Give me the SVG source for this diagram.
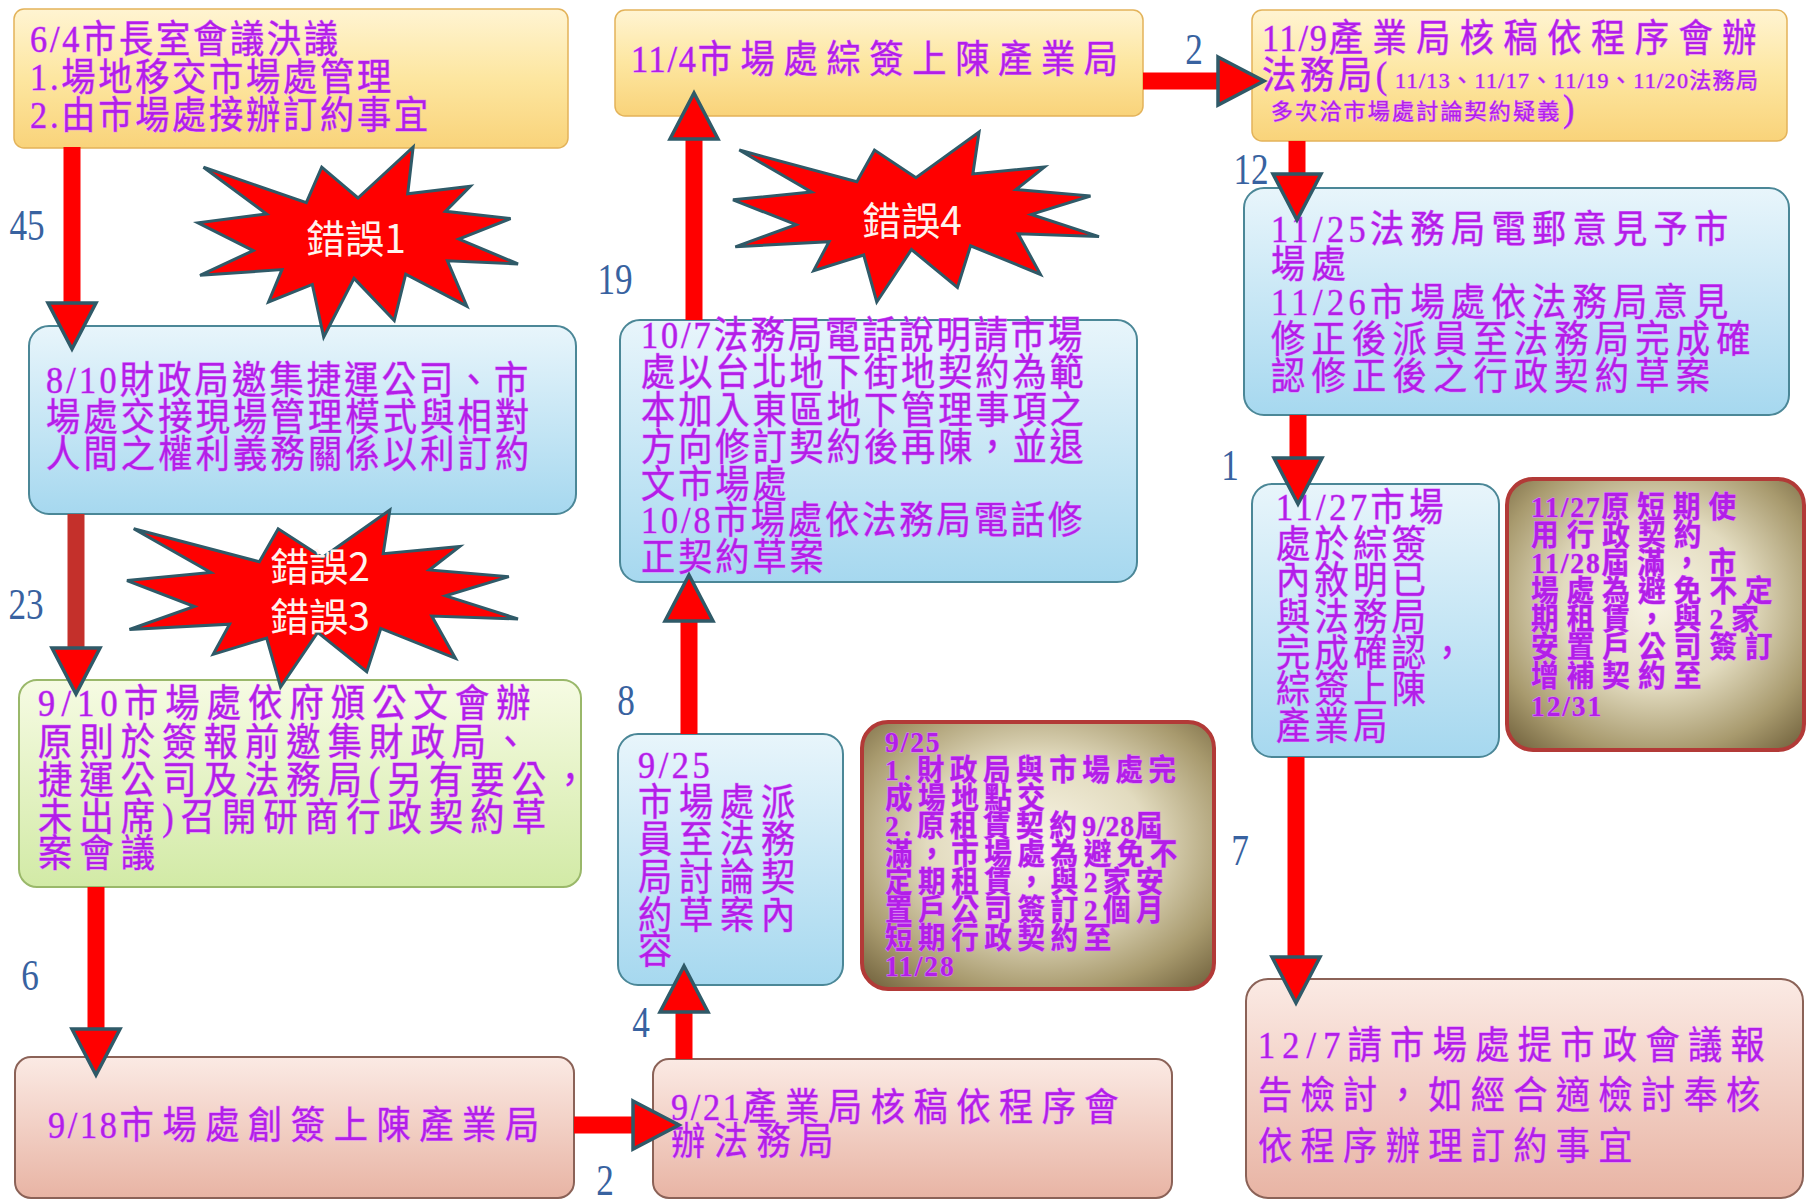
<svg xmlns="http://www.w3.org/2000/svg" xmlns:xlink="http://www.w3.org/1999/xlink" width="1806" height="1203" viewBox="0 0 1806 1203">
<defs>
<style>
.t{font-family:"Liberation Serif","Noto Sans CJK TC",serif;fill:#b31ee8;stroke:#dd80ff;stroke-width:1;paint-order:stroke;}
.tb{font-weight:bold;}
.lbl{font-family:"Liberation Serif",serif;font-size:44px;fill:#3862a0;text-anchor:middle;}
.star{fill:#ff0000;stroke:#2f5a68;stroke-width:3;stroke-linejoin:miter;}
.st{font-family:"Noto Sans CJK TC","Liberation Sans",sans-serif;font-size:39px;fill:#fff3ee;text-anchor:middle;}
.shaft{stroke:#ff0000;stroke-width:17;fill:none;}
.yel{fill:url(#gYel);stroke:#e3b35a;stroke-width:1.5;}
.blu{fill:url(#gBlu);stroke:#4b8797;stroke-width:2;}
.grn{fill:url(#gGrn);stroke:#9ab86a;stroke-width:2;}
.pnk{fill:url(#gPnk);stroke:#8b6257;stroke-width:2;}
.brn{fill:url(#gBrn);stroke:#b23a37;stroke-width:4;}
</style>
<linearGradient id="gYel" x1="0" y1="0" x2="0" y2="1"><stop offset="0" stop-color="#fff4d2"/><stop offset="0.5" stop-color="#fde6a0"/><stop offset="1" stop-color="#f9d37a"/></linearGradient>
<linearGradient id="gBlu" x1="0" y1="0" x2="0" y2="1"><stop offset="0" stop-color="#e8f5fb"/><stop offset="1" stop-color="#a6d8ef"/></linearGradient>
<linearGradient id="gGrn" x1="0" y1="0" x2="0" y2="1"><stop offset="0" stop-color="#f6fbe3"/><stop offset="1" stop-color="#d2eaa6"/></linearGradient>
<linearGradient id="gPnk" x1="0" y1="0" x2="0" y2="1"><stop offset="0" stop-color="#fbeae4"/><stop offset="1" stop-color="#e8b4a4"/></linearGradient>
<radialGradient id="gBrn" cx="0.5" cy="0.45" r="0.7"><stop offset="0" stop-color="#f8f4e4"/><stop offset="0.45" stop-color="#e2dbbf"/><stop offset="0.8" stop-color="#a89a6e"/><stop offset="1" stop-color="#7a6b45"/></radialGradient>
<path id="seal" vector-effect="non-scaling-stroke" d="M108,58 L145.22,0 L141.55,53.25 L183.8,44.57 L167.02,73.15 L210.97,81.37 L176.07,104.75 L216,132.9 L168.37,129.42 L181.45,180.95 L140.2,144.57 L132.47,197.37 L105.32,149.35 L84.85,216 L77.15,156.27 L47.62,176.17 L56.67,139.37 L1.35,145.87 L37.22,117.75 L0,86.15 L46.27,76.17 L3.7,22.95 L73.12,63.2 L83.52,22.95 Z"/>
<marker id="ah" markerUnits="userSpaceOnUse" viewBox="-3 -27 54 54" markerWidth="54" markerHeight="54" refX="0" refY="0" orient="auto" overflow="visible">
<path d="M0,-24 L46,0 L0,24 Z" fill="#ff0000" stroke="#2f5a68" stroke-width="3.5" stroke-linejoin="miter"/>
</marker>
</defs>
<rect x="0" y="0" width="1806" height="1203" fill="#ffffff"/>

<g id="nodes">
<g id="n-0604">
<rect class="yel" x="14" y="9" width="554" height="139" rx="10"/>
<text class="t" font-size="38" letter-spacing="3.1" transform="translate(30,0) scale(0.9,1)"><tspan x="0" y="52">6/4市長室會議決議</tspan><tspan x="0" y="90">1.場地移交市場處管理</tspan><tspan x="0" y="128">2.由市場處接辦訂約事宜</tspan></text>
</g>
<g id="n-1104">
<rect class="yel" x="615" y="10" width="528" height="106" rx="10"/>
<text class="t" font-size="38" letter-spacing="9.7" transform="translate(631,0) scale(0.9,1)"><tspan x="0" y="72"><tspan letter-spacing="2">11/4</tspan>市場處綜簽上陳產業局</tspan></text>
</g>
<g id="n-1109">
<rect class="yel" x="1252" y="10" width="535" height="131" rx="10"/>
<text class="t" font-size="38" letter-spacing="10.6" transform="translate(1262,0) scale(0.9,1)"><tspan x="0" y="51"><tspan letter-spacing="2">11/9</tspan>產業局核稿依程序會辦</tspan></text>
<text class="t" font-size="38" letter-spacing="4.2" transform="translate(1262,0) scale(0.9,1)"><tspan x="0" y="88">法務局(</tspan></text>
<text class="t" font-size="22" letter-spacing="1.35" x="1395" y="88">11/13、11/17、11/19、11/20法務局</text>
<text class="t" font-size="22" letter-spacing="2.2" x="1271" y="119">多次洽市場處討論契約疑義</text>
<text class="t" font-size="38" transform="translate(1563,0) scale(0.9,1)"><tspan x="0" y="121">)</tspan></text>
</g>
<g id="n-0810">
<rect class="blu" x="29" y="326" width="547" height="188" rx="20"/>
<text class="t" font-size="38" letter-spacing="3.6" transform="translate(46,0) scale(0.9,1)"><tspan x="0" y="393">8/10財政局邀集捷運公司、市</tspan><tspan x="0" y="430">場處交接現場管理模式與相對</tspan><tspan x="0" y="467">人間之權利義務關係以利訂約</tspan></text>
</g>
<g id="n-1007">
<rect class="blu" x="620" y="320" width="517" height="262" rx="20"/>
<text class="t" font-size="38" letter-spacing="3.3" transform="translate(641,0) scale(0.9,1)"><tspan x="0" y="348">10/7法務局電話說明請市場</tspan><tspan x="0" y="385">處以台北地下街地契約為範</tspan><tspan x="0" y="423">本加入東區地下管理事項之</tspan><tspan x="0" y="460">方向修訂契約後再陳，並退</tspan><tspan x="0" y="497">文市場處</tspan><tspan x="0" y="533">10/8市場處依法務局電話修</tspan><tspan x="0" y="570">正契約草案</tspan></text>
</g>
<g id="n-1125">
<rect class="blu" x="1244" y="188" width="545" height="227" rx="20"/>
<text class="t" font-size="38" letter-spacing="7" transform="translate(1271,0) scale(0.9,1)"><tspan x="0" y="242"><tspan letter-spacing="5">11/25</tspan>法務局電郵意見予市</tspan><tspan x="0" y="277">場處</tspan><tspan x="0" y="315"><tspan letter-spacing="5">11/26</tspan>市場處依法務局意見</tspan><tspan x="0" y="352">修正後派員至法務局完成確</tspan><tspan x="0" y="389">認修正後之行政契約草案</tspan></text>
</g>
<g id="n-0910">
<rect class="grn" x="19" y="680" width="562" height="207" rx="18"/>
<text class="t" font-size="38" letter-spacing="8" transform="translate(38,0) scale(0.9,1)"><tspan x="0" y="716"><tspan letter-spacing="7">9/10</tspan>市場處依府頒公文會辦</tspan><tspan x="0" y="755">原則於簽報前邀集財政局、</tspan><tspan x="0" y="793">捷運公司及法務局(另有要公，</tspan><tspan x="0" y="830">未出席)召開研商行政契約草</tspan><tspan x="0" y="866">案會議</tspan></text>
</g>
<g id="n-0925a">
<rect class="blu" x="618" y="734" width="225" height="251" rx="20"/>
<text class="t" font-size="38" letter-spacing="7.6" transform="translate(638,0) scale(0.9,1)"><tspan x="0" y="778" letter-spacing="4">9/25</tspan><tspan x="0" y="815">市場處派</tspan><tspan x="0" y="852">員至法務</tspan><tspan x="0" y="890">局討論契</tspan><tspan x="0" y="928">約草案內</tspan><tspan x="0" y="963">容</tspan></text>
</g>
<g id="n-0925b">
<rect class="brn" x="862" y="722" width="352" height="267" rx="26"/>
<text class="t tb" font-size="30" letter-spacing="6" transform="translate(885,0) scale(0.92,1)"><tspan x="0" y="752" letter-spacing="2">9/25</tspan><tspan x="0" y="780">1.財政局與市場處完</tspan><tspan x="0" y="808">成場地點交</tspan><tspan x="0" y="836">2.原租賃契約<tspan letter-spacing="1">9/28</tspan>屆</tspan><tspan x="0" y="864">滿，市場處為避免不</tspan><tspan x="0" y="892">定期租賃，與2家安</tspan><tspan x="0" y="920">置戶公司簽訂2個月</tspan><tspan x="0" y="948">短期行政契約至</tspan><tspan x="0" y="976" letter-spacing="2">11/28</tspan></text>
</g>
<g id="n-1127a">
<rect class="blu" x="1252" y="484" width="247" height="273" rx="20"/>
<text class="t" font-size="38" letter-spacing="4.9" transform="translate(1276,0) scale(0.9,1)"><tspan x="0" y="520"><tspan letter-spacing="4">11/27</tspan>市場</tspan><tspan x="0" y="557">處於綜簽</tspan><tspan x="0" y="593">內敘明已</tspan><tspan x="0" y="630">與法務局</tspan><tspan x="0" y="666">完成確認，</tspan><tspan x="0" y="702">綜簽上陳</tspan><tspan x="0" y="739">產業局</tspan></text>
</g>
<g id="n-1127b">
<rect class="brn" x="1507" y="479" width="297" height="271" rx="26"/>
<text class="t tb" font-size="30" letter-spacing="8.8" transform="translate(1531,0) scale(0.92,1)"><tspan x="0" y="517"><tspan letter-spacing="2">11/27</tspan>原短期使</tspan><tspan x="0" y="545">用行政契約</tspan><tspan x="0" y="573"><tspan letter-spacing="2">11/28</tspan>屆滿，市</tspan><tspan x="0" y="601">場處為避免不定</tspan><tspan x="0" y="629">期租賃，與2家</tspan><tspan x="0" y="657">安置戶公司簽訂</tspan><tspan x="0" y="686">增補契約至</tspan><tspan x="0" y="716" letter-spacing="2">12/31</tspan></text>
</g>
<g id="n-0918">
<rect class="pnk" x="15" y="1057" width="559" height="141" rx="16"/>
<text class="t" font-size="38" letter-spacing="9.6" transform="translate(48,0) scale(0.9,1)"><tspan x="0" y="1138"><tspan letter-spacing="3">9/18</tspan>市場處創簽上陳產業局</tspan></text>
</g>
<g id="n-0921">
<rect class="pnk" x="653" y="1059" width="519" height="139" rx="16"/>
<text class="t" font-size="38" letter-spacing="9.5" transform="translate(671,0) scale(0.9,1)"><tspan x="0" y="1120"><tspan letter-spacing="3">9/21</tspan>產業局核稿依程序會</tspan><tspan x="0" y="1154">辦法務局</tspan></text>
</g>
<g id="n-1207">
<rect class="pnk" x="1246" y="979" width="557" height="219" rx="22"/>
<text class="t" font-size="38" letter-spacing="9.3" transform="translate(1258,0) scale(0.9,1)"><tspan x="0" y="1058"><tspan letter-spacing="8">12/7</tspan>請市場處提市政會議報</tspan><tspan x="0" y="1108">告檢討，如經合適檢討奉核</tspan><tspan x="0" y="1159">依程序辦理訂約事宜</tspan></text>
</g>
</g>

<g id="connectors">
<line class="shaft" x1="72" y1="147" x2="72" y2="303" marker-end="url(#ah)"/>
<line class="shaft" x1="76" y1="514" x2="76" y2="648" marker-end="url(#ah)" style="stroke:#c4302b"/>
<line class="shaft" x1="96" y1="887" x2="96" y2="1029" marker-end="url(#ah)"/>
<line class="shaft" x1="574" y1="1125" x2="633" y2="1125" marker-end="url(#ah)"/>
<line class="shaft" x1="684" y1="1059" x2="684" y2="1012" marker-end="url(#ah)"/>
<line class="shaft" x1="689" y1="734" x2="689" y2="621" marker-end="url(#ah)"/>
<line class="shaft" x1="694" y1="320" x2="694" y2="139" marker-end="url(#ah)"/>
<line class="shaft" x1="1143" y1="81" x2="1218" y2="81" marker-end="url(#ah)"/>
<line class="shaft" x1="1297" y1="141" x2="1297" y2="174" marker-end="url(#ah)"/>
<line class="shaft" x1="1298" y1="415" x2="1298" y2="458" marker-end="url(#ah)"/>
<line class="shaft" x1="1296" y1="757" x2="1296" y2="957" marker-end="url(#ah)"/>
<g id="connector-labels">
<text class="lbl" transform="translate(27,240) scale(0.8,1)">45</text>
<text class="lbl" transform="translate(26,619) scale(0.8,1)">23</text>
<text class="lbl" transform="translate(30,990) scale(0.8,1)">6</text>
<text class="lbl" transform="translate(605,1195) scale(0.8,1)">2</text>
<text class="lbl" transform="translate(641,1037) scale(0.8,1)">4</text>
<text class="lbl" transform="translate(626,715) scale(0.8,1)">8</text>
<text class="lbl" transform="translate(615,294) scale(0.8,1)">19</text>
<text class="lbl" transform="translate(1194,64) scale(0.8,1)">2</text>
<text class="lbl" transform="translate(1251,184) scale(0.8,1)">12</text>
<text class="lbl" transform="translate(1230,480) scale(0.8,1)">1</text>
<text class="lbl" transform="translate(1240,865) scale(0.8,1)">7</text>
</g>
</g>

<g id="err1">
<use href="#seal" xlink:href="#seal" class="star" transform="translate(198,147) scale(1.4815,0.8796)"/>
<text class="st" x="356" y="253">錯誤1</text>
</g>
<g id="err4">
<use href="#seal" xlink:href="#seal" class="star" transform="translate(733,132) scale(1.6944,0.787)"/>
<text class="st" x="912" y="235">錯誤4</text>
</g>
<g id="err23">
<use href="#seal" xlink:href="#seal" class="star" transform="translate(127,510) scale(1.81,0.8194)"/>
<text class="st" x="320" y="581">錯誤2</text>
<text class="st" x="320" y="631">錯誤3</text>
</g>
</svg>
